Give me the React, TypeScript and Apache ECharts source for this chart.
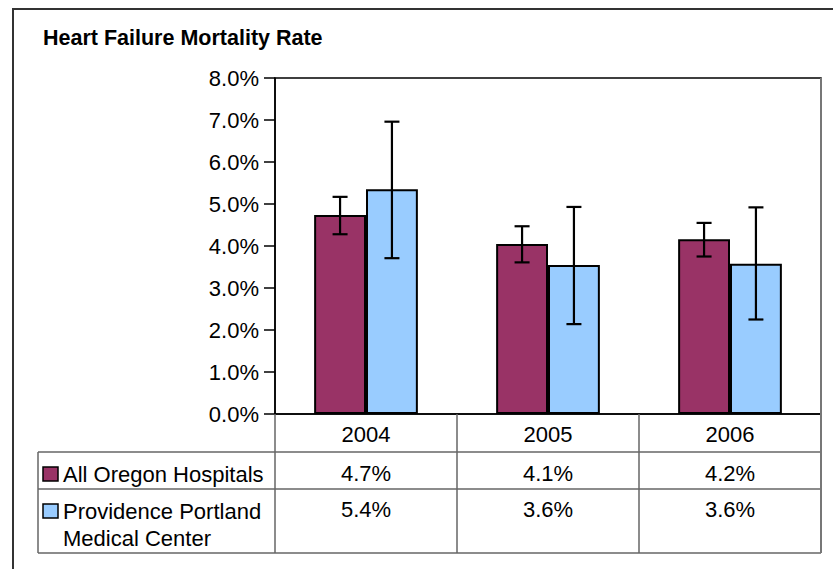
import React, { useEffect, useRef } from "react";
import * as echarts from "echarts";

const categories = ["2004", "2005", "2006"];
const seriesNames = ["All Oregon Hospitals", "Providence Portland Medical Center"];
const oregonValues = [4.74, 4.05, 4.16];
const oregonLow = [4.28, 3.61, 3.75];
const oregonHigh = [5.17, 4.47, 4.55];
const providenceValues = [5.35, 3.55, 3.58];
const providenceLow = [3.71, 2.14, 2.25];
const providenceHigh = [6.96, 4.93, 4.92];
const tableOregon = ["4.7%", "4.1%", "4.2%"];
const tableProvidence = ["5.4%", "3.6%", "3.6%"];
const colors = ["#993366", "#99CCFF"];

const FONT = "'Liberation Sans', Arial, sans-serif";
const FS = 22;
const TITLE_FS = 21.5;
const BAR_FRAC = 0.285;

export default function App() {
  const ref = useRef<HTMLDivElement>(null);
  useEffect(() => {
    document.body.style.margin = "0";
    document.body.style.overflow = "hidden";
    const chart = echarts.init(ref.current!, null, { renderer: "svg" });
    const errData: any[] = [];
    categories.forEach((_, i) => {
      errData.push([i, oregonLow[i], oregonHigh[i], 0]);
      errData.push([i, providenceLow[i], providenceHigh[i], 1]);
    });
    chart.setOption({
      animation: false,
      textStyle: { fontFamily: FONT },
      grid: { left: 275, right: 12, top: 78, bottom: 155, show: true, borderColor: "#000", borderWidth: 1.5 },
      xAxis: {
        type: "category",
        data: categories,
        axisLine: { lineStyle: { color: "#000", width: 1.5 } },
        axisLabel: { show: false },
        axisTick: { show: true, interval: 0, length: 139, lineStyle: { color: "#666", width: 1.5 } },
        splitLine: { show: false },
      },
      yAxis: {
        type: "value",
        min: 0,
        max: 8,
        interval: 1,
        axisLine: { show: true, lineStyle: { color: "#000", width: 1.5 } },
        axisTick: { show: true, length: 11, lineStyle: { color: "#000", width: 1.5 } },
        axisLabel: { margin: 16, color: "#000", fontSize: FS, fontFamily: FONT, formatter: (v: number) => v.toFixed(1) + "%" },
        splitLine: { show: false },
      },
      series: [
        {
          name: seriesNames[0], type: "bar", data: oregonValues, barWidth: BAR_FRAC * 100 + "%", barGap: "0%",
          itemStyle: { color: colors[0], borderColor: "#000", borderWidth: 2 },
        },
        {
          name: seriesNames[1], type: "bar", data: providenceValues, barWidth: BAR_FRAC * 100 + "%", barGap: "0%",
          itemStyle: { color: colors[1], borderColor: "#000", borderWidth: 2 },
        },
        {
          type: "custom",
          data: errData,
          encode: { x: 0, y: [1, 2] },
          z: 10,
          renderItem: (params: any, api: any) => {
            const cat = api.value(0);
            const lo = api.coord([cat, api.value(1)]);
            const hi = api.coord([cat, api.value(2)]);
            const band = api.size([1, 0])[0];
            const off = (api.value(3) === 0 ? -1 : 1) * band * BAR_FRAC / 2;
            const x = lo[0] + off;
            const hw = 7.5;
            const style = { stroke: "#000", lineWidth: 2.2 };
            return {
              type: "group",
              children: [
                { type: "line", shape: { x1: x, y1: lo[1], x2: x, y2: hi[1] }, style },
                { type: "line", shape: { x1: x - hw, y1: hi[1], x2: x + hw, y2: hi[1] }, style },
                { type: "line", shape: { x1: x - hw, y1: lo[1], x2: x + hw, y2: lo[1] }, style },
              ],
            };
          },
        },
      ],
    });

    const centers = categories.map((c, i) => chart.convertToPixel({ xAxisIndex: 0 }, i) as number);
    const band = centers.length > 1 ? centers[1] - centers[0] : 182;
    const rightEdge = centers[centers.length - 1] + band / 2;
    const baseY = chart.convertToPixel({ yAxisIndex: 0 }, 0) as number;
    const row1 = baseY + 38;
    const row2 = baseY + 75;
    const tableBottom = baseY + 139;
    const tableLeft = 38;
    const lineStyle = { stroke: "#666", lineWidth: 1.5 };
    const txt = (text: string, x: number, y: number, align = "center", bold = false) => ({
      type: "text",
      x, y,
      style: { text, fill: "#000", font: `${bold ? "bold " : ""}${bold ? TITLE_FS : FS}px ${FONT}`, align, verticalAlign: "middle" },
    });
    const graphics: any[] = [
      { type: "rect", shape: { x: 13, y: 9, width: 1000, height: 1000 }, style: { fill: "none", stroke: "#333", lineWidth: 2 } },
      txt("Heart Failure Mortality Rate", 43, 38, "left", true),
      { type: "line", shape: { x1: rightEdge, y1: 78, x2: rightEdge, y2: tableBottom }, style: { stroke: "#777", lineWidth: 2 }, z: 20 },
      { type: "line", shape: { x1: tableLeft, y1: row1, x2: rightEdge, y2: row1 }, style: lineStyle },
      { type: "line", shape: { x1: tableLeft, y1: row2, x2: rightEdge, y2: row2 }, style: lineStyle },
      { type: "line", shape: { x1: tableLeft, y1: tableBottom, x2: rightEdge, y2: tableBottom }, style: lineStyle },
      { type: "line", shape: { x1: tableLeft, y1: row1, x2: tableLeft, y2: tableBottom }, style: lineStyle },
      { type: "rect", shape: { x: 43, y: 467, width: 15, height: 14 }, style: { fill: colors[0], stroke: "#000", lineWidth: 1.5 } },
      { type: "rect", shape: { x: 43, y: 504, width: 15, height: 14 }, style: { fill: colors[1], stroke: "#000", lineWidth: 1.5 } },
      txt(seriesNames[0], 63, 474, "left"),
      txt("Providence Portland", 63, 511, "left"),
      txt("Medical Center", 63, 538, "left"),
    ];
    categories.forEach((c, i) => {
      graphics.push(txt(c, centers[i], baseY + 20));
      graphics.push(txt(tableOregon[i], centers[i], 473));
      graphics.push(txt(tableProvidence[i], centers[i], 509));
    });
    chart.setOption({ graphic: graphics });
    return () => chart.dispose();
  }, []);
  return <div ref={ref} style={{ width: 833, height: 569 }} />;
}
